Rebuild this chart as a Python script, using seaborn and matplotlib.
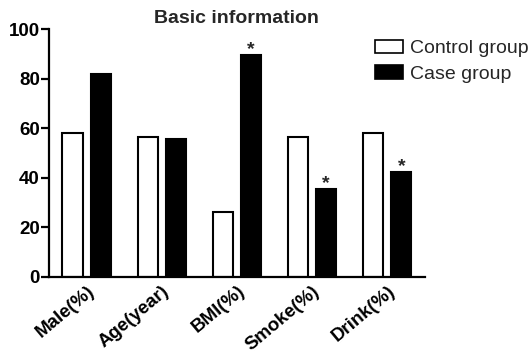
from matplotlib import pyplot as plt
from matplotlib.patches import Patch
import seaborn as sns
import pandas as pd

# Dados
categorias = ['Male(%)', 'Age(year)', 'BMI(%)', 'Smoke(%)', 'Drink(%)']
controle = [58, 56.5, 26, 56.5, 58]
caso = [82, 55.6, 89.6, 35.6, 42.5]
significativo = [False, False, True, True, True]
grupos = ['Control group', 'Case group']

dados = pd.DataFrame({
    'categoria': categorias * 2,
    'valor': controle + caso,
    'grupo': [grupos[0]] * len(categorias) + [grupos[1]] * len(categorias),
})

sns.set_style('ticks')
plt.rcParams['font.family'] = ['Liberation Sans', 'DejaVu Sans']

fig = plt.figure(figsize=(5.31, 3.56), dpi=100)
ax = fig.add_axes([0.0923, 0.222, 0.7077, 0.6965])

sns.barplot(data=dados, x='categoria', y='valor', hue='grupo',
            palette={grupos[0]: 'white', grupos[1]: 'black'},
            edgecolor='black', linewidth=1.5, width=0.75, gap=0.29,
            saturation=1, legend=False, ax=ax)

# asteriscos
for i, sig in enumerate(significativo):
    if sig:
        ax.text(i + 0.1875, caso[i] - 1.5, '*', ha='center', va='bottom',
                fontsize=14, fontweight='bold')

ax.set_xlim(-0.5, 4.5)
ax.set_ylim(0, 100)
ax.set_yticks([0, 20, 40, 60, 80, 100])
ax.set_xlabel('')
ax.set_ylabel('')
ax.set_title('Basic information', fontsize=14, fontweight='bold', pad=4)

for s in ['top', 'right']:
    ax.spines[s].set_visible(False)
for s in ['left', 'bottom']:
    ax.spines[s].set_linewidth(1.6)
    ax.spines[s].set_color('black')

ax.tick_params(axis='y', length=6, width=1.6, labelsize=13.5, pad=0.5, colors='black')
ax.tick_params(axis='x', length=0, labelsize=13.5, pad=4, colors='black')
for lbl in ax.get_yticklabels():
    lbl.set_fontweight('bold')
for lbl in ax.get_xticklabels():
    lbl.set_fontweight('bold')
    lbl.set_rotation(40)
    lbl.set_ha('right')
    lbl.set_rotation_mode('anchor')

handles = [Patch(facecolor='white', edgecolor='black', linewidth=1.2),
           Patch(facecolor='black', edgecolor='black', linewidth=1.2)]
fig.legend(handles, grupos, loc='upper left', bbox_to_anchor=(0.706, 0.888),
           frameon=False, fontsize=14, handlelength=1.45, handleheight=0.7,
           handletextpad=0.35, labelspacing=0.4, borderpad=0, borderaxespad=0)

fig.savefig('out.png', dpi=100)
